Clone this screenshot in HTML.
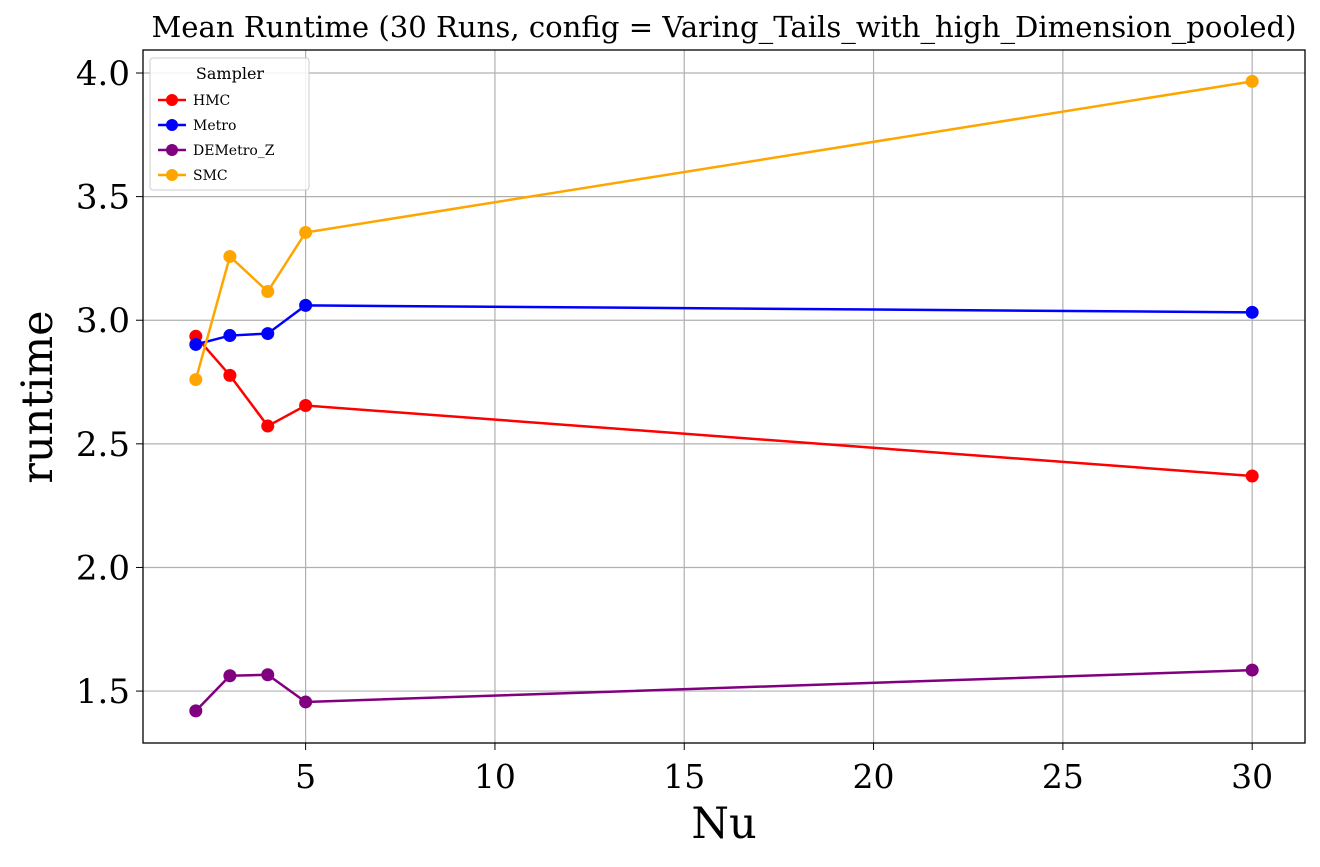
<!DOCTYPE html>
<html><head><meta charset="utf-8"><style>
body{margin:0;background:#fff;}
svg{font-family:"DejaVu Serif","Liberation Serif",serif;}
</style></head><body>
<svg id="chart" width="1320" height="862"></svg>
<script>
const categories=[2.1,3,4,5,30];
const seriesNames=["HMC","Metro","DEMetro_Z","SMC"];
const colors=["#ff0000","#0000ff","#800080","#ffa500"];
const hmc=[2.935,2.777,2.572,2.655,2.37];
const metro=[2.902,2.938,2.946,3.06,3.032];
const demetro=[1.42,1.562,1.566,1.456,1.585];
const smc=[2.76,3.258,3.116,3.355,3.966];
const xTicks=[5,10,15,20,25,30];
const yTicks=[1.5,2.0,2.5,3.0,3.5,4.0];
const allSeries=[hmc,metro,demetro,smc];
const L=143,R=1305,T=50,B=743;
const xmin=0.705,xmax=31.395,ymin=1.29,ymax=4.093;
const sx=v=>L+(v-xmin)/(xmax-xmin)*(R-L);
const sy=v=>B-(v-ymin)/(ymax-ymin)*(B-T);
const svg=document.getElementById('chart');
const NS="http://www.w3.org/2000/svg";
function mk(t,a,p){const e=document.createElementNS(NS,t);for(const k in a)e.setAttribute(k,a[k]);(p||svg).appendChild(e);return e;}
xTicks.forEach(v=>{const g=mk('line',{x1:sx(v),x2:sx(v),y1:T,y2:B,stroke:'#b0b0b0','stroke-width':1.2});

mk('line',{x1:sx(v),x2:sx(v),y1:B,y2:B+7,stroke:'#000'});
const t=mk('text',{x:sx(v),y:B+45,'text-anchor':'middle','font-size':33});t.textContent=v;
});
yTicks.forEach(v=>{const g=mk('line',{x1:L,x2:R,y1:sy(v),y2:sy(v),stroke:'#b0b0b0','stroke-width':1.2});

mk('line',{x1:L-7,x2:L,y1:sy(v),y2:sy(v),stroke:'#000'});
const t=mk('text',{x:L-13,y:sy(v)+12,'text-anchor':'end','font-size':34});t.textContent=v.toFixed(1);
});
const fr=mk('rect',{x:L,y:T,width:R-L,height:B-T,fill:'none',stroke:'#000','stroke-width':1.3});

allSeries.forEach((s,i)=>{
const g=mk('g',{});
mk('polyline',{points:s.map((v,j)=>sx(categories[j])+','+sy(v)).join(' '),fill:'none',stroke:colors[i],'stroke-width':2.5},g);
s.forEach((v,j)=>{const c=mk('circle',{cx:sx(categories[j]),cy:sy(v),r:6.5,fill:colors[i]},g);
});});
let t=mk('text',{x:724,y:37,'text-anchor':'middle','font-size':29,textLength:1145,lengthAdjust:'spacingAndGlyphs'});t.textContent="Mean Runtime (30 Runs, config = Varing_Tails_with_high_Dimension_pooled)";

t=mk('text',{x:724,y:838,'text-anchor':'middle','font-size':43});t.textContent="Nu";

t=mk('text',{x:52,y:397,'text-anchor':'middle','font-size':43,transform:'rotate(-90 52 397)'});t.textContent="runtime";

const lg=mk('g',{});
mk('rect',{x:150,y:58,width:159,height:132,rx:3,fill:'#fff','fill-opacity':0.85,stroke:'#ccc'},lg);
t=mk('text',{x:230,y:79,'text-anchor':'middle','font-size':16},lg);t.textContent="Sampler";
seriesNames.forEach((n,i)=>{const y=100+i*25;
const e=mk('g',{},lg);
mk('line',{x1:158,x2:186,y1:y,y2:y,stroke:colors[i],'stroke-width':2.5},e);
mk('circle',{cx:172,cy:y,r:6,fill:colors[i]},e);
const tx=mk('text',{x:193,y:y+5,'font-size':14},e);tx.textContent=n;});
</script>
</body></html>
